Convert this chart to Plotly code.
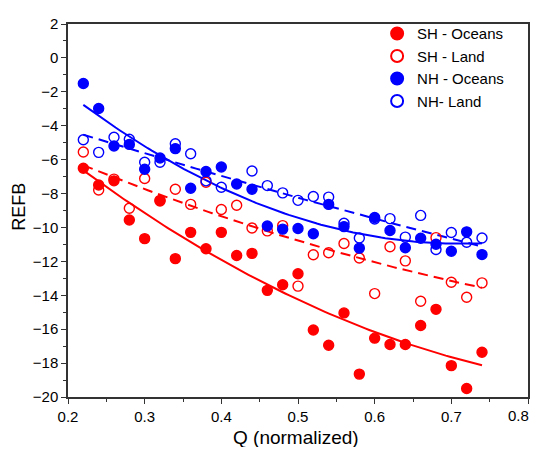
import numpy as np
import plotly.graph_objects as go

q = [0.22, 0.24, 0.26, 0.28, 0.30, 0.32, 0.34, 0.36, 0.38, 0.40, 0.42, 0.44, 0.46, 0.48,
     0.50, 0.52, 0.54, 0.56, 0.58, 0.60, 0.62, 0.64, 0.66, 0.68, 0.70, 0.72, 0.74]

sh_oceans = [-6.51, -7.5, -7.25, -9.56, -10.66, -8.44, -11.84, -10.29, -11.26, -10.29, -11.65,
             -11.53, -13.71, -13.38, -12.73, -16.05, -16.95, -15.04, -18.65, -16.53, -16.9,
             -16.9, -15.78, -14.83, -18.15, -19.5, -17.36]
sh_land = [-5.55, -7.79, -7.15, -8.87, -7.11, -8.4, -7.75, -8.64, -7.33, -8.94, -8.69,
           -10.03, -10.2, -9.89, -13.46, -11.61, -11.49, -10.95, -11.8, -13.9, -11.14,
           -11.97, -14.35, -10.6, -13.23, -14.12, -13.27]
nh_oceans = [-1.51, -2.98, -5.2, -5.1, -6.57, -5.9, -5.35, -7.69, -6.7, -6.43, -7.44,
             -7.75, -9.91, -10.1, -10.06, -10.37, -8.64, -9.95, -11.22, -9.41, -10.18,
             -11.2, -10.64, -10.99, -11.4, -10.26, -11.6]
q_nh_land = [0.22, 0.24, 0.26, 0.28, 0.30, 0.32, 0.34, 0.36, 0.38, 0.40, 0.44, 0.46, 0.48,
             0.50, 0.52, 0.54, 0.56, 0.58, 0.60, 0.62, 0.64, 0.66, 0.68, 0.70, 0.72, 0.74]
nh_land = [-4.83, -5.57, -4.68, -4.8, -6.15, -6.15, -5.06, -5.65, -7.25, -7.63,
           -6.67, -7.53, -7.96, -8.4, -8.17, -8.21, -9.75, -10.62, -9.5, -9.48, -10.57,
           -9.29, -11.3, -10.3, -10.87, -10.62]

x_tickvals = [0.2, 0.3, 0.4, 0.5, 0.6, 0.7, 0.8]
x_ticklabels = ["0.2", "0.3", "0.4", "0.5", "0.6", "0.7", "0.8"]

names = ["SH - Oceans", "SH - Land", "NH - Oceans", "NH- Land"]
x_title = "Q (normalized)"
y_title = "REFB"
RED = "#ff0000"
BLUE = "#0000ff"
FONT = "Liberation Sans, Arial, sans-serif"

series = [
    (q, sh_oceans, names[0], RED, True, "solid"),
    (q, sh_land, names[1], RED, False, "dash"),
    (q, nh_oceans, names[2], BLUE, True, "solid"),
    (q_nh_land, nh_land, names[3], BLUE, False, "dash"),
]

fig = go.Figure()
for xs, ys, nm, col, filled, dash in series:
    coef = np.polyfit(np.array(xs), np.array(ys), 2)
    xf = np.linspace(min(xs), max(xs), 100)
    fig.add_trace(go.Scatter(
        x=xf, y=np.polyval(coef, xf), mode="lines", showlegend=False,
        line=dict(color=col, width=2, dash="10px,6px" if dash == "dash" else "solid"),
        hoverinfo="skip"))

for xs, ys, nm, col, filled, dash in series:
    fig.add_trace(go.Scatter(
        x=xs, y=ys, mode="markers", name=nm,
        marker=dict(symbol="circle" if filled else "circle-open", size=10, color=col,
                    line=dict(color=col, width=1.4))))

axis_common = dict(
    showline=True, linecolor="#333333", linewidth=1.5, mirror=True,
    ticks="outside", ticklen=5, tickwidth=1.2, tickcolor="#333333",
    showgrid=False, zeroline=False, automargin=False, ticklabeloverflow="allow",
    tickfont=dict(family=FONT, size=15, color="#000000"),
)

# last x label would be clipped at the page edge; draw it as a right-anchored annotation
last_label = x_ticklabels[-1]
shown_labels = x_ticklabels[:-1] + [""]

# the page body adds an 8px offset, so the figure is smaller and margins shifted
fig.update_layout(
    width=531, height=439,
    margin=dict(l=60, r=11, t=9, b=50),
    paper_bgcolor="white", plot_bgcolor="white",
    xaxis=dict(range=[0.2, 0.8], tickmode="array", tickvals=x_tickvals, ticktext=shown_labels,
               minor=dict(ticks="outside", ticklen=3, dtick=0.05, tickcolor="#333333"),
               **axis_common),
    yaxis=dict(range=[-20, 2], dtick=2, tick0=0,
               minor=dict(ticks="outside", ticklen=3, dtick=1, tickcolor="#333333"),
               **axis_common),
    legend=dict(x=0.672, y=1.018, xanchor="left", yanchor="top",
                bgcolor="rgba(0,0,0,0)", borderwidth=0,
                font=dict(family=FONT, size=15, color="#000000"),
                itemsizing="constant", tracegroupgap=0),
    showlegend=True,
    annotations=[
        dict(text=x_title, xref="paper", yref="paper", x=0.496, y=-0.108,
             xanchor="center", yanchor="middle", showarrow=False,
             font=dict(family=FONT, size=19, color="#000000")),
        dict(text=y_title, xref="paper", yref="paper", x=-0.1065, y=0.51,
             xanchor="center", yanchor="middle", showarrow=False, textangle=-90,
             font=dict(family=FONT, size=18, color="#000000")),
        dict(text=last_label, xref="x", yref="paper", x=x_tickvals[-1], y=-0.05,
             xanchor="right", yanchor="middle", xshift=3, showarrow=False,
             font=dict(family=FONT, size=15, color="#000000")),
    ],
)

fig.write_html("out.html")
